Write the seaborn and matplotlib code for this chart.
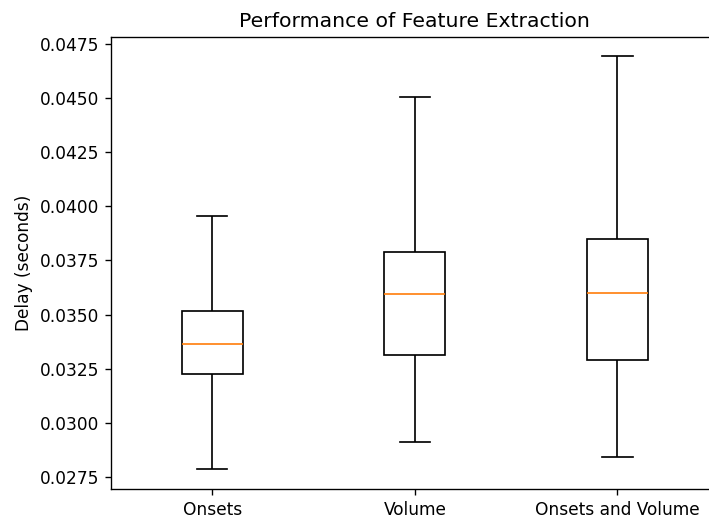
import matplotlib
matplotlib.use("Agg")
import matplotlib.pyplot as plt
import seaborn as sns
import pandas as pd

# Box statistics (seconds)
categories = ["Onsets", "Volume", "Onsets and Volume"]
mins    = [0.02788, 0.02913, 0.02845]
q1s     = [0.03225, 0.03315, 0.03290]
medians = [0.03366, 0.03594, 0.03599]
q3s     = [0.03518, 0.03790, 0.03847]
maxs    = [0.03956, 0.04504, 0.04691]

rows = []
for c, a, b, m, d, e in zip(categories, mins, q1s, medians, q3s, maxs):
    for v in (a, b, m, d, e):
        rows.append({"Feature": c, "Delay": v})
df = pd.DataFrame(rows)

DPI = 122
fig = plt.figure(figsize=(709 / DPI, 522 / DPI), dpi=DPI)
ax = fig.add_axes([111 / 709, 1 - 489.3 / 522, 607.6 / 709, 452.6 / 522])

sns.boxplot(
    data=df, x="Feature", y="Delay", order=categories, ax=ax,
    color="white", linecolor="black", linewidth=1.0, width=0.3,
    whis=(0, 100), showfliers=False, saturation=1,
    medianprops={"color": "#ff7f0e", "linewidth": 1.0},
)

ax.set_ylim(0.026947, 0.047815)
ax.set_xlim(-0.5, 2.5)
ax.set_yticks([0.0275, 0.0300, 0.0325, 0.0350, 0.0375, 0.0400, 0.0425, 0.0450, 0.0475])
ax.set_yticklabels(["0.0275", "0.0300", "0.0325", "0.0350", "0.0375",
                    "0.0400", "0.0425", "0.0450", "0.0475"])
ax.set_xlabel("")
ax.set_ylabel("Delay (seconds)")
ax.set_title("Performance of Feature Extraction")

fig.savefig("out.png", dpi=DPI)
